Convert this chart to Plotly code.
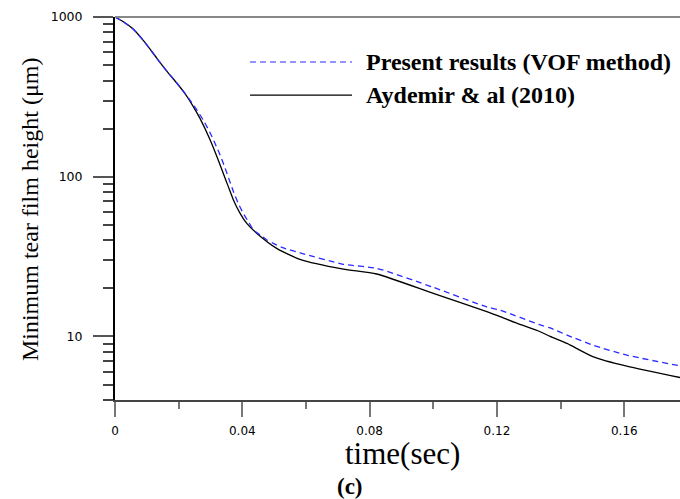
import plotly.graph_objects as go
import math

# ---- data ----
t_present = [0, 0.0026, 0.0057, 0.0094, 0.0131, 0.0162, 0.0194, 0.0220, 0.0236, 0.0257,
             0.0278, 0.0299, 0.0314, 0.0330, 0.0346, 0.0361, 0.0372, 0.0387, 0.0403,
             0.0419, 0.0435, 0.0456, 0.0477, 0.0497, 0.0524, 0.0581, 0.0717, 0.0822,
             0.1000, 0.1168, 0.1210, 0.1336, 0.1367, 0.1420, 0.1503, 0.1608, 0.1775]
h_present = [1000, 934, 841, 693, 553, 460, 386, 332, 301, 262,
             225, 188, 162, 137, 113, 93, 80.8, 68.2, 59,
             52.3, 46.4, 43.2, 40.2, 38.3, 36.1, 33.4, 28.3, 26.7,
             20.3, 15.3, 14.6, 11.8, 11.3, 10.2, 8.8, 7.64, 6.54]

t_aydemir = [0, 0.0026, 0.0057, 0.0094, 0.0131, 0.0162, 0.0194, 0.0220, 0.0246, 0.0267,
             0.0299, 0.0320, 0.0340, 0.0356, 0.0372, 0.0393, 0.0414, 0.0445, 0.0508,
             0.0581, 0.0717, 0.0822, 0.1000, 0.1168, 0.1210, 0.1262, 0.1336, 0.1367,
             0.1420, 0.1503, 0.1608, 0.1775]
h_aydemir = [1000, 934, 841, 693, 553, 460, 386, 331, 275, 232,
             170, 134, 105, 86.7, 71.6, 59, 51, 44.3, 35.6,
             30.4, 26.4, 24.6, 18.6, 14.3, 13.3, 12.1, 10.7, 10.0,
             9.04, 7.45, 6.51, 5.53]

x_ticks = [0, 0.04, 0.08, 0.12, 0.16]
x_ticktext = ["0", "0.04", "0.08", "0.12", "0.16"]
x_minor = [0.02, 0.06, 0.10, 0.14]
y_ticks = [10, 100, 1000]
y_ticktext = ["10", "100", "1000"]
y_minor = [m * 10 ** e for e in range(0, 3) for m in range(2, 10) if m * 10 ** e >= 4]

series_names = ["Present results (VOF method)", "Aydemir & al (2010)"]

serif = "Liberation Serif"
sans = "DejaVu Sans"

fig = go.Figure()
fig.add_trace(go.Scatter(x=t_aydemir, y=h_aydemir, mode="lines", name=series_names[1],
                         line=dict(color="black", width=1.3, shape="spline", smoothing=0.6),
                         showlegend=False))
fig.add_trace(go.Scatter(x=t_present, y=h_present, mode="lines", name=series_names[0],
                         line=dict(color="#2a2aff", width=1.3, dash="6px,4px",
                                   shape="spline", smoothing=0.6),
                         showlegend=False))

fig.update_layout(
    width=680, height=499,
    margin=dict(l=115, r=0, t=17, b=99),
    paper_bgcolor="white", plot_bgcolor="white",
    showlegend=False,
    xaxis=dict(range=[0, 0.1775], tickvals=x_ticks, ticktext=x_ticktext,
               ticks="outside", ticklen=15, tickwidth=2, tickcolor="#777",
               showline=True, linecolor="#444", linewidth=2,
               showgrid=False, zeroline=False,
               tickfont=dict(family=sans, size=12, color="black"),
               ticklabelstandoff=4,
               minor=dict(tickvals=x_minor, ticks="outside", ticklen=7,
                          tickwidth=2, tickcolor="#777", showgrid=False)),
    yaxis=dict(type="log", range=[math.log10(4), 3], tickvals=y_ticks, ticktext=y_ticktext,
               ticks="outside", ticklen=20, tickwidth=2, tickcolor="#555",
               showline=True, linecolor="black", linewidth=2,
               showgrid=False, zeroline=False,
               tickfont=dict(family=sans, size=12.5, color="black"),
               ticklabelstandoff=8,
               minor=dict(tickvals=y_minor, ticks="outside", ticklen=10,
                          tickwidth=2, tickcolor="#444", showgrid=False)),
)

# top frame line
fig.add_shape(type="line", xref="paper", yref="paper", x0=0, x1=1, y0=1, y1=1,
              line=dict(color="#888", width=2))

# custom legend keys
fig.add_shape(type="line", xref="paper", yref="paper", x0=0.239, x1=0.4195, y0=0.8825, y1=0.8825,
              line=dict(color="#2a2aff", width=1.2, dash="6px,4px"))
fig.add_shape(type="line", xref="paper", yref="paper", x0=0.239, x1=0.4195, y0=0.796, y1=0.796,
              line=dict(color="black", width=1.3))
fig.add_annotation(xref="paper", yref="paper", x=0.44, y=0.8825, xanchor="left", yanchor="middle",
                   text=series_names[0], showarrow=False,
                   font=dict(family=serif, size=24, color="black", weight="bold"))
fig.add_annotation(xref="paper", yref="paper", x=0.44, y=0.796, xanchor="left", yanchor="middle",
                   text=series_names[1], showarrow=False,
                   font=dict(family=serif, size=24, color="black", weight="bold"))

# axis titles
fig.add_annotation(xref="paper", yref="paper", x=-0.1504, y=0.496, xanchor="center", yanchor="middle",
                   text="Minimum tear film height (μm)", textangle=-90, showarrow=False,
                   font=dict(family=serif, size=24, color="black"))
fig.add_annotation(xref="paper", yref="paper", x=0.509, y=-0.14, xanchor="center", yanchor="middle",
                   text="time(sec)", showarrow=False,
                   font=dict(family=serif, size=31, color="black"))
fig.add_annotation(xref="paper", yref="paper", x=0.416, y=-0.226, xanchor="center", yanchor="middle",
                   text="(c)", showarrow=False,
                   font=dict(family=serif, size=23, color="black", weight="bold"))

fig.write_html("out.html", config={"displayModeBar": False},
               post_script="document.body.style.margin='0px';")
